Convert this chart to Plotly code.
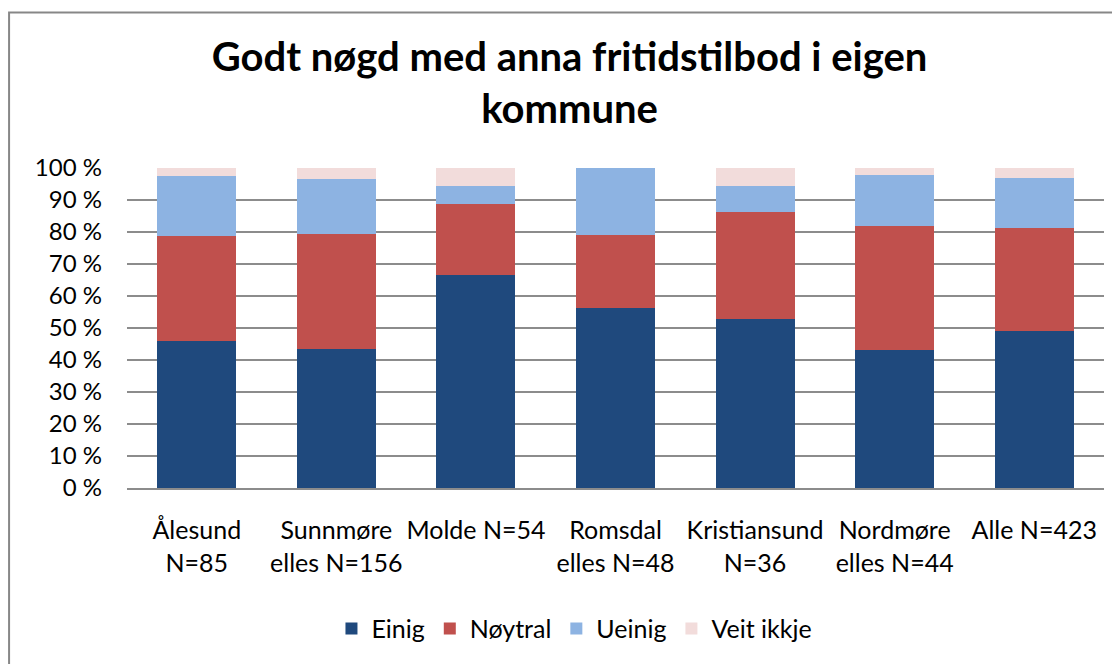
import plotly.graph_objects as go

categories = ["Ålesund<br>N=85", "Sunnmøre<br>elles N=156", "Molde N=54", "Romsdal<br>elles N=48",
              "Kristiansund<br>N=36", "Nordmøre<br>elles N=44", "Alle N=423"]
einig = [45.9, 43.5, 66.7, 56.3, 52.8, 43.2, 49.0]
noytral = [32.9, 35.8, 22.2, 22.9, 33.3, 38.6, 32.2]
ueinig = [18.8, 17.3, 5.6, 20.8, 8.3, 15.9, 15.7]
veit_ikkje = [2.4, 3.4, 5.5, 0.0, 5.6, 2.3, 3.1]
y_ticks = [0, 10, 20, 30, 40, 50, 60, 70, 80, 90, 100]

series = [("Einig", einig, "#1F497D"),
          ("Nøytral", noytral, "#C0504D"),
          ("Ueinig", ueinig, "#8DB3E2"),
          ("Veit ikkje", veit_ikkje, "#F2DCDB")]

fig = go.Figure()
for name, vals, col in series:
    fig.add_trace(go.Bar(x=categories, y=vals, name=name, marker_color=col,
                         marker_line_width=0))

# page has an 8px body margin, so the figure is 8px smaller than the window
fig.update_layout(
    barmode="stack",
    bargap=0.434,
    width=1112, height=656,
    paper_bgcolor="white", plot_bgcolor="white",
    font=dict(family="Lato, Calibri, sans-serif", size=24, color="black"),
    margin=dict(l=119, r=16, t=160, b=173),
    title=dict(text="<b>Godt nøgd med anna fritidstilbod i eigen<br>kommune</b>",
               x=0.505, xanchor="center", y=0.904, yanchor="middle",
               font=dict(size=40, color="black")),
    legend=dict(orientation="h", x=0.458, xanchor="center", y=-0.44, yanchor="middle",
                font=dict(size=25), itemsizing="constant", traceorder="normal",
                itemwidth=30),
    shapes=[dict(type="rect", xref="paper", yref="paper",
                 x0=-0.1207, x1=1.05, y0=-0.6, y1=1.486,
                 line=dict(color="#878787", width=2), fillcolor="rgba(0,0,0,0)",
                 layer="below")],
)
fig.update_yaxes(range=[0, 100], tickvals=y_ticks, ticktext=[f"{v} %" for v in y_ticks],
                 showgrid=True, gridcolor="#8C8C8C", gridwidth=1.5,
                 zeroline=False, showline=False, ticks="", ticklabelstandoff=24)
fig.update_xaxes(showline=True, linecolor="#8C8C8C", linewidth=2, ticks="",
                 tickfont=dict(size=25), ticklabelstandoff=19)

fig.write_html("out.html")
